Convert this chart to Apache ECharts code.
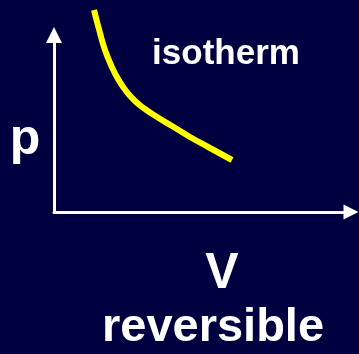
<!DOCTYPE html>
<html>
<head>
<meta charset="utf-8">
<script src="https://cdn.jsdelivr.net/npm/echarts@6/dist/echarts.min.js"></script>
<style>
  html, body { margin: 0; padding: 0; background: #000040; }
  #chart { width: 359px; height: 354px; }
</style>
</head>
<body>
<div id="chart"></div>
<script>
// isotherm curve (V, p in arbitrary units)
var volume = [40, 46, 51, 57, 64, 72, 81, 91, 103, 118, 136, 156, 178];
var pressure = [202, 179, 162, 147, 133, 121, 111, 103, 95, 86, 75, 64, 52];
var curveName = "isotherm";
var xLabel = "V";
var yLabel = "p";
var caption = "reversible";

var points = [];
for (var i = 0; i < volume.length; i++) {
  points.push([volume[i], pressure[i]]);
}

var font = "Arial, 'Liberation Sans', sans-serif";

var chart = echarts.init(document.getElementById("chart"));
chart.setOption({
  backgroundColor: "#000040",
  animation: false,
  grid: { left: 54, right: 8, top: 35, bottom: 142 },
  xAxis: {
    type: "value",
    min: 0,
    max: 297,
    axisLine: {
      show: true,
      lineStyle: { color: "#ffffff", width: 3 },
      symbol: ["none", "triangle"],
      symbolSize: [15, 15]
    },
    axisTick: { show: false },
    axisLabel: { show: false },
    splitLine: { show: false }
  },
  yAxis: {
    type: "value",
    min: 0,
    max: 177,
    axisLine: {
      show: true,
      lineStyle: { color: "#ffffff", width: 3 },
      symbol: ["none", "triangle"],
      symbolSize: [16, 16]
    },
    axisTick: { show: false },
    axisLabel: { show: false },
    splitLine: { show: false }
  },
  series: [
    {
      name: curveName,
      type: "line",
      data: points,
      smooth: true,
      clip: false,
      showSymbol: false,
      lineStyle: { color: "#ffff00", width: 6, cap: "butt" }
    }
  ],
  graphic: [
    {
      type: "text", x: 226, y: 54,
      style: { text: curveName, fill: "#ffffff", font: "bold 35px " + font, textAlign: "center", textVerticalAlign: "middle" }
    },
    {
      type: "text", x: 25, y: 140,
      style: { text: yLabel, fill: "#ffffff", font: "bold 50px " + font, textAlign: "center", textVerticalAlign: "middle" }
    },
    {
      type: "text", x: 222, y: 274,
      style: { text: xLabel, fill: "#ffffff", font: "bold 50px " + font, textAlign: "center", textVerticalAlign: "middle" }
    },
    {
      type: "text", x: 213, y: 328,
      style: { text: caption, fill: "#ffffff", font: "bold 47px " + font, textAlign: "center", textVerticalAlign: "middle" }
    }
  ]
});
</script>
</body>
</html>
